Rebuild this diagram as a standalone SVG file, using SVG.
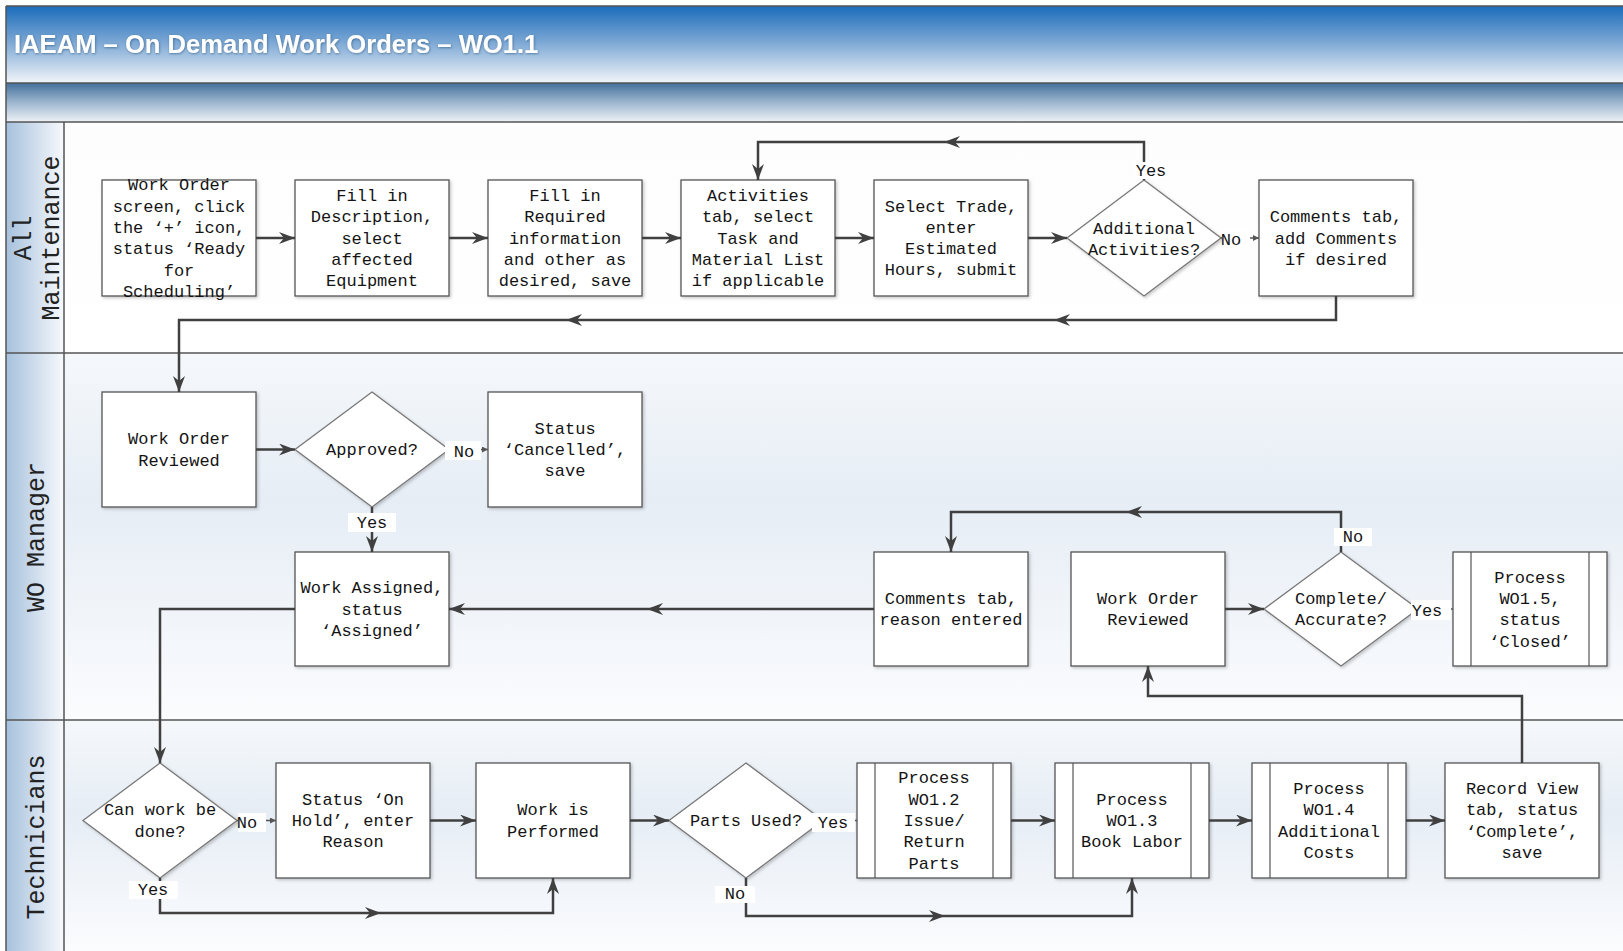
<svg xmlns="http://www.w3.org/2000/svg" xmlns:xlink="http://www.w3.org/1999/xlink" width="1623" height="951" viewBox="0 0 1623 951">
<defs>
<linearGradient id="gTitle" x1="0" y1="0" x2="0" y2="1">
<stop offset="0" stop-color="#1a6cbb"/>
<stop offset="0.45" stop-color="#78a5d3"/>
<stop offset="1" stop-color="#f2f5fa"/>
</linearGradient>
<linearGradient id="gBand" x1="0" y1="0" x2="0" y2="1">
<stop offset="0" stop-color="#44709b"/>
<stop offset="0.5" stop-color="#9db6cf"/>
<stop offset="1" stop-color="#eef2f6"/>
</linearGradient>
<linearGradient id="gLane" x1="0" y1="0" x2="0" y2="1">
<stop offset="0" stop-color="#f5f8fb"/>
<stop offset="0.4" stop-color="#e6edf5"/>
<stop offset="1" stop-color="#fbfcfe"/>
</linearGradient>
<linearGradient id="gLane1" x1="0" y1="0" x2="0" y2="1">
<stop offset="0" stop-color="#fdfdfe"/>
<stop offset="1" stop-color="#ffffff"/>
</linearGradient>
<linearGradient id="gHead" x1="0" y1="0" x2="1" y2="0">
<stop offset="0" stop-color="#a6c1dd"/>
<stop offset="1" stop-color="#f7f9fc"/>
</linearGradient>
<filter id="sh" x="-10%" y="-10%" width="130%" height="130%">
<feDropShadow dx="1.5" dy="1.5" stdDeviation="1.5" flood-color="#000" flood-opacity="0.22"/>
</filter>
<filter id="tsh" x="-5%" y="-20%" width="110%" height="150%">
<feDropShadow dx="0.6" dy="0.8" stdDeviation="0.8" flood-color="#24466e" flood-opacity="0.6"/>
</filter>
<marker id="ah" viewBox="0 0 16 12" markerWidth="16" markerHeight="12" refX="16" refY="6" markerUnits="userSpaceOnUse" orient="auto">
<path d="M0,0 L16,6 L0,12 L5,6 z" fill="#404040"/>
</marker>
<marker id="sm" viewBox="0 0 6 6" markerWidth="6" markerHeight="6" refX="6" refY="3" markerUnits="userSpaceOnUse" orient="auto">
<path d="M0,0 L6,3 L0,6 z" fill="#555"/>
</marker>
<path id="mid" d="M8,0 L-8,-6 L-3,0 L-8,6 z" fill="#404040"/>
</defs>
<style>
.box{fill:#fff;stroke:#555;stroke-width:1.3;filter:url(#sh)}
.dia{fill:#fff;stroke:#777;stroke-width:1.3;filter:url(#sh)}
.sub{stroke:#555;stroke-width:1.2}
.t{font-family:"Liberation Mono","Courier New",monospace;font-size:17px;fill:#141414;text-anchor:middle}
.lane{font-family:"Liberation Mono","Courier New",monospace;font-size:25px;fill:#222;text-anchor:middle}
.c{fill:none;stroke:#404040;stroke-width:2.5}
.cs{fill:none;stroke:#555;stroke-width:1.3}
.lb{fill:#fff}
</style>

<rect x="0" y="0" width="1623" height="951" fill="#fff"/>

<g id="header">
<rect x="6" y="6" width="1617" height="77" fill="url(#gTitle)"/>
<rect x="6" y="83" width="1617" height="39" fill="url(#gBand)"/>
<line x1="6" y1="83" x2="1623" y2="83" stroke="#555" stroke-width="1.5"/>
<line x1="6" y1="6" x2="1623" y2="6" stroke="#555" stroke-width="1.5"/>
<text x="14" y="53" font-family="Liberation Sans, Arial, sans-serif" font-weight="bold" font-size="25.6" fill="#fff" filter="url(#tsh)">IAEAM – On Demand Work Orders – WO1.1</text>
</g>

<g id="lanes">
<rect x="64" y="122" width="1559" height="231" fill="url(#gLane1)"/>
<rect x="64" y="353" width="1559" height="367" fill="url(#gLane)"/>
<rect x="64" y="720" width="1559" height="231" fill="url(#gLane)"/>
<rect x="6" y="122" width="58" height="829" fill="url(#gHead)"/>
<line x1="6" y1="122" x2="1623" y2="122" stroke="#555" stroke-width="1.5"/>
<line x1="6" y1="353" x2="1623" y2="353" stroke="#555" stroke-width="1.5"/>
<line x1="6" y1="720" x2="1623" y2="720" stroke="#555" stroke-width="1.5"/>
<line x1="64" y1="122" x2="64" y2="951" stroke="#555" stroke-width="1.5"/>
<line x1="6" y1="6" x2="6" y2="951" stroke="#555" stroke-width="1.5"/>
<text class="lane" transform="translate(31,238) rotate(-90)">All</text>
<text class="lane" transform="translate(59,238) rotate(-90)">Maintenance</text>
<text class="lane" transform="translate(44,537) rotate(-90)">WO Manager</text>
<text class="lane" transform="translate(44,837) rotate(-90)">Technicians</text>
</g>

<g id="n1"><rect class="box" x="102" y="180" width="154" height="116"/>
<text class="t" x="179" y="190.3"><tspan x="179">Work Order</tspan><tspan x="179" dy="21.3">screen, click</tspan><tspan x="179" dy="21.3">the ‘+’ icon,</tspan><tspan x="179" dy="21.3">status ‘Ready</tspan><tspan x="179" dy="21.3">for</tspan><tspan x="179" dy="21.3">Scheduling’</tspan></text></g>
<g id="n2"><rect class="box" x="295" y="180" width="154" height="116"/>
<text class="t" x="372" y="200.9"><tspan x="372">Fill in</tspan><tspan x="372" dy="21.3">Description,</tspan><tspan x="372" dy="21.3">select</tspan><tspan x="372" dy="21.3">affected</tspan><tspan x="372" dy="21.3">Equipment</tspan></text></g>
<g id="n3"><rect class="box" x="488" y="180" width="154" height="116"/>
<text class="t" x="565" y="200.9"><tspan x="565">Fill in</tspan><tspan x="565" dy="21.3">Required</tspan><tspan x="565" dy="21.3">information</tspan><tspan x="565" dy="21.3">and other as</tspan><tspan x="565" dy="21.3">desired, save</tspan></text></g>
<g id="n4"><rect class="box" x="681" y="180" width="154" height="116"/>
<text class="t" x="758" y="200.9"><tspan x="758">Activities</tspan><tspan x="758" dy="21.3">tab, select</tspan><tspan x="758" dy="21.3">Task and</tspan><tspan x="758" dy="21.3">Material List</tspan><tspan x="758" dy="21.3">if applicable</tspan></text></g>
<g id="n5"><rect class="box" x="874" y="180" width="154" height="116"/>
<text class="t" x="951" y="211.5"><tspan x="951">Select Trade,</tspan><tspan x="951" dy="21.3">enter</tspan><tspan x="951" dy="21.3">Estimated</tspan><tspan x="951" dy="21.3">Hours, submit</tspan></text></g>
<g id="d1"><path class="dia" d="M1144,180 L1221,238 L1144,296 L1067,238 z"/>
<text class="t" x="1144" y="234"><tspan x="1144">Additional</tspan><tspan x="1144" dy="21.3">Activities?</tspan></text></g>
<g id="n7"><rect class="box" x="1259" y="180" width="154" height="116"/>
<text class="t" x="1336" y="222.2"><tspan x="1336">Comments tab,</tspan><tspan x="1336" dy="21.3">add Comments</tspan><tspan x="1336" dy="21.3">if desired</tspan></text></g>

<g id="m1"><rect class="box" x="102" y="392" width="154" height="115"/>
<text class="t" x="179" y="444.4"><tspan x="179">Work Order</tspan><tspan x="179" dy="21.3">Reviewed</tspan></text></g>
<g id="d2"><path class="dia" d="M372,392 L449,449.5 L372,507 L295,449.5 z"/>
<text class="t" x="372" y="455">Approved?</text></g>
<g id="m3"><rect class="box" x="488" y="392" width="154" height="115"/>
<text class="t" x="565" y="433.7"><tspan x="565">Status</tspan><tspan x="565" dy="21.3">‘Cancelled’,</tspan><tspan x="565" dy="21.3">save</tspan></text></g>
<g id="m4"><rect class="box" x="295" y="552" width="154" height="114"/>
<text class="t" x="372" y="593.2"><tspan x="372">Work Assigned,</tspan><tspan x="372" dy="21.3">status</tspan><tspan x="372" dy="21.3">‘Assigned’</tspan></text></g>
<g id="m5"><rect class="box" x="874" y="552" width="154" height="114"/>
<text class="t" x="951" y="603.9"><tspan x="951">Comments tab,</tspan><tspan x="951" dy="21.3">reason entered</tspan></text></g>
<g id="m6"><rect class="box" x="1071" y="552" width="154" height="114"/>
<text class="t" x="1148" y="603.9"><tspan x="1148">Work Order</tspan><tspan x="1148" dy="21.3">Reviewed</tspan></text></g>
<g id="d3"><path class="dia" d="M1341,552 L1418,609 L1341,666 L1264,609 z"/>
<text class="t" x="1341" y="603.9"><tspan x="1341">Complete/</tspan><tspan x="1341" dy="21.3">Accurate?</tspan></text></g>
<g id="m8"><rect class="box" x="1453" y="552" width="154" height="114"/>
<line class="sub" x1="1471" y1="552" x2="1471" y2="666"/><line class="sub" x1="1589" y1="552" x2="1589" y2="666"/>
<text class="t" x="1530" y="582.6"><tspan x="1530">Process</tspan><tspan x="1530" dy="21.3">WO1.5,</tspan><tspan x="1530" dy="21.3">status</tspan><tspan x="1530" dy="21.3">‘Closed’</tspan></text></g>

<g id="d4"><path class="dia" d="M160,763 L237,820.5 L160,878 L83,820.5 z"/>
<text class="t" x="160" y="815.4"><tspan x="160">Can work be</tspan><tspan x="160" dy="21.3">done?</tspan></text></g>
<g id="t2"><rect class="box" x="276" y="763" width="154" height="115"/>
<text class="t" x="353" y="804.7"><tspan x="353">Status ‘On</tspan><tspan x="353" dy="21.3">Hold’, enter</tspan><tspan x="353" dy="21.3">Reason</tspan></text></g>
<g id="t3"><rect class="box" x="476" y="763" width="154" height="115"/>
<text class="t" x="553" y="815.4"><tspan x="553">Work is</tspan><tspan x="553" dy="21.3">Performed</tspan></text></g>
<g id="d5"><path class="dia" d="M746,763 L823,820.5 L746,878 L669,820.5 z"/>
<text class="t" x="746" y="826">Parts Used?</text></g>
<g id="t5"><rect class="box" x="857" y="763" width="154" height="115"/>
<line class="sub" x1="875" y1="763" x2="875" y2="878"/><line class="sub" x1="993" y1="763" x2="993" y2="878"/>
<text class="t" x="934" y="783.4"><tspan x="934">Process</tspan><tspan x="934" dy="21.3">WO1.2</tspan><tspan x="934" dy="21.3">Issue/</tspan><tspan x="934" dy="21.3">Return</tspan><tspan x="934" dy="21.3">Parts</tspan></text></g>
<g id="t6"><rect class="box" x="1055" y="763" width="154" height="115"/>
<line class="sub" x1="1073" y1="763" x2="1073" y2="878"/><line class="sub" x1="1191" y1="763" x2="1191" y2="878"/>
<text class="t" x="1132" y="804.7"><tspan x="1132">Process</tspan><tspan x="1132" dy="21.3">WO1.3</tspan><tspan x="1132" dy="21.3">Book Labor</tspan></text></g>
<g id="t7"><rect class="box" x="1252" y="763" width="154" height="115"/>
<line class="sub" x1="1270" y1="763" x2="1270" y2="878"/><line class="sub" x1="1388" y1="763" x2="1388" y2="878"/>
<text class="t" x="1329" y="794"><tspan x="1329">Process</tspan><tspan x="1329" dy="21.3">WO1.4</tspan><tspan x="1329" dy="21.3">Additional</tspan><tspan x="1329" dy="21.3">Costs</tspan></text></g>
<g id="t8"><rect class="box" x="1445" y="763" width="154" height="115"/>
<text class="t" x="1522" y="794"><tspan x="1522">Record View</tspan><tspan x="1522" dy="21.3">tab, status</tspan><tspan x="1522" dy="21.3">‘Complete’,</tspan><tspan x="1522" dy="21.3">save</tspan></text></g>

<g id="connectors">
<path class="c" d="M256,238 H295" marker-end="url(#ah)"/>
<path class="c" d="M449,238 H488" marker-end="url(#ah)"/>
<path class="c" d="M642,238 H681" marker-end="url(#ah)"/>
<path class="c" d="M835,238 H874" marker-end="url(#ah)"/>
<path class="c" d="M1028,238 H1067" marker-end="url(#ah)"/>
<path class="cs" d="M1221,238 H1259" marker-end="url(#sm)"/>
<path class="c" d="M1144,180 V142 H758 V180" marker-end="url(#ah)"/>
<use xlink:href="#mid" transform="translate(952,142) rotate(180)"/>
<path class="c" d="M1336,296 V320 H179 V392" marker-end="url(#ah)"/>
<use xlink:href="#mid" transform="translate(1062,320) rotate(180)"/>
<use xlink:href="#mid" transform="translate(574,320) rotate(180)"/>
<path class="c" d="M256,449.5 H295" marker-end="url(#ah)"/>
<path class="cs" d="M449,449.5 H488" marker-end="url(#sm)"/>
<path class="c" d="M372,507 V552" marker-end="url(#ah)"/>
<path class="c" d="M874,609 H449" marker-end="url(#ah)"/>
<use xlink:href="#mid" transform="translate(655,609) rotate(180)"/>
<path class="c" d="M1225,609 H1264" marker-end="url(#ah)"/>
<path class="c" d="M1341,552 V512 H951 V552" marker-end="url(#ah)"/>
<use xlink:href="#mid" transform="translate(1134,512) rotate(180)"/>
<path class="cs" d="M1418,609 H1453"/>
<path class="c" d="M1522,763 V696 H1148 V666" marker-end="url(#ah)"/>
<path class="c" d="M295,609 H160 V763" marker-end="url(#ah)"/>
<path class="cs" d="M237,820.5 H276" marker-end="url(#sm)"/>
<path class="c" d="M430,820.5 H476" marker-end="url(#ah)"/>
<path class="c" d="M160,878 V913 H553 V878" marker-end="url(#ah)"/>
<use xlink:href="#mid" transform="translate(373,913)"/>
<path class="c" d="M630,820.5 H669" marker-end="url(#ah)"/>
<path class="cs" d="M823,820.5 H857"/>
<path class="c" d="M746,878 V916 H1132 V878" marker-end="url(#ah)"/>
<use xlink:href="#mid" transform="translate(937,916)"/>
<path class="c" d="M1011,820.5 H1055" marker-end="url(#ah)"/>
<path class="c" d="M1209,820.5 H1252" marker-end="url(#ah)"/>
<path class="c" d="M1406,820.5 H1445" marker-end="url(#ah)"/>

<rect class="lb" x="1134" y="162" width="34" height="17"/><text class="t" x="1151" y="176">Yes</text>
<rect class="lb" x="1222" y="230" width="28" height="19"/><text class="t" x="1231" y="245">No</text>
<rect class="lb" x="445" y="441" width="36" height="19"/><text class="t" x="464" y="457">No</text>
<rect class="lb" x="348" y="513" width="48" height="19"/><text class="t" x="372" y="528">Yes</text>
<rect class="lb" x="1334" y="528" width="38" height="18"/><text class="t" x="1353" y="542">No</text>
<rect class="lb" x="1411" y="600" width="40" height="20"/><text class="t" x="1427" y="616">Yes</text>
<rect class="lb" x="238" y="813" width="28" height="19"/><text class="t" x="247" y="828">No</text>
<rect class="lb" x="129" y="881" width="49" height="18"/><text class="t" x="153" y="895">Yes</text>
<rect class="lb" x="812" y="813" width="43" height="19"/><text class="t" x="833" y="828">Yes</text>
<rect class="lb" x="715" y="886" width="40" height="17"/><text class="t" x="735" y="899">No</text>
</g>
</svg>
